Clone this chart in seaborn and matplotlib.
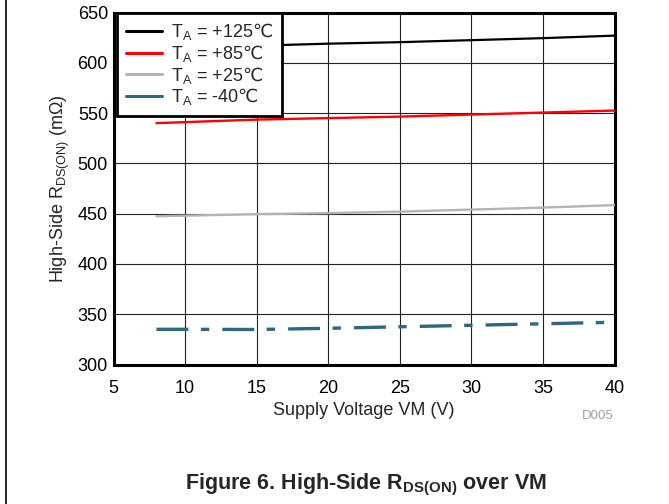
import numpy as np
import pandas as pd
import matplotlib
matplotlib.use("Agg")
import matplotlib.pyplot as plt
from matplotlib.lines import Line2D
import seaborn as sns

# ---- data ----
vm = [8, 10, 15, 20, 25, 30, 35, 40]
r_125 = [614, 615, 617, 619, 620.5, 622.5, 624.5, 627]
r_85 = [540, 541, 543.5, 545, 546.5, 548.5, 550.5, 552.5]
r_25 = [447.5, 448, 449.5, 450.5, 452, 454, 456, 458.5]
r_m40 = [335, 335, 334.8, 336, 337.5, 339, 340.5, 342]

labels = ["T$_\\mathregular{A}$ = +125$\\mathsf{\u2103}$",
          "T$_\\mathregular{A}$ = +85$\\mathsf{\u2103}$",
          "T$_\\mathregular{A}$ = +25$\\mathsf{\u2103}$",
          "T$_\\mathregular{A}$ = -40$\\mathsf{\u2103}$"]
colors = ["#000000", "#ff0000", "#b4b4b4", "#2f6680"]
x_ticks = [5, 10, 15, 20, 25, 30, 35, 40]
y_ticks = [300, 350, 400, 450, 500, 550, 600, 650]

sns.set_style("white")
plt.rcParams['font.family'] = ['Liberation Sans', 'DejaVu Sans']
plt.rcParams['mathtext.fontset'] = 'custom'
plt.rcParams['mathtext.rm'] = 'Liberation Sans'
plt.rcParams['mathtext.sf'] = 'DejaVu Sans'
plt.rcParams['mathtext.bf'] = 'Liberation Sans:bold'
plt.rcParams['lines.scale_dashes'] = False

fig = plt.figure(figsize=(6.69, 5.04), dpi=100)
ax = fig.add_axes([113.5 / 669, 1 - 364.5 / 504, 501 / 669, 352 / 504])

series = [r_125, r_85, r_25, r_m40]
widths = [1.6, 1.7, 1.7, 2.4]
for vals, c, lw in zip(series, colors, widths):
    sns.lineplot(x=vm, y=vals, color=c, linewidth=lw, ax=ax, zorder=3)

# dash-dot style for -40 line
ln = ax.get_lines()[-1]
ln.set_dashes((23, 9, 6, 9.4))
ln.set_dash_capstyle('butt')

ax.set_xlim(5, 40)
ax.set_ylim(300, 650)
ax.set_xticks(x_ticks)
ax.set_yticks(y_ticks)
ax.grid(True, color="#222222", linewidth=0.8)
ax.set_axisbelow(True)
for s in ax.spines.values():
    s.set_visible(True)
    s.set_color("black")
    s.set_linewidth(2.2)
ax.tick_params(axis='both', length=0, labelsize=13, colors='black')
ax.tick_params(axis='x', pad=11)
ax.tick_params(axis='y', pad=4)
ax.set_xlabel("Supply Voltage VM (V)", fontsize=13, labelpad=4)
ax.set_ylabel("High-Side R$_\\mathregular{DS(ON)}$ (m\u03a9)", fontsize=13, labelpad=4)

handles = [Line2D([], [], color=c, linewidth=2.2) for c in colors]
leg = ax.legend(handles, labels, loc='upper left', bbox_to_anchor=(0.007, 1.0),
                borderaxespad=0, fancybox=False, framealpha=1, edgecolor='black',
                fontsize=13, handlelength=2.0, handletextpad=0.5, labelspacing=0.04,
                borderpad=0.48)
leg.get_frame().set_linewidth(2)
leg.set_zorder(5)

fig.text(598 / 669, 1 - 416 / 504, "D005", fontsize=9.5, color="#a0a0a0",
         ha='center', va='center')
fig.text(366 / 669, 1 - 485 / 504, "Figure 6. High-Side R$_\\mathbf{DS(ON)}$ over VM",
         fontsize=15.5, fontweight='bold', ha='center', va='center')
fig.add_artist(Line2D([6.5 / 669, 6.5 / 669], [0, 1], color='black', linewidth=1.2,
                      transform=fig.transFigure))

fig.savefig("out.png", dpi=100)
